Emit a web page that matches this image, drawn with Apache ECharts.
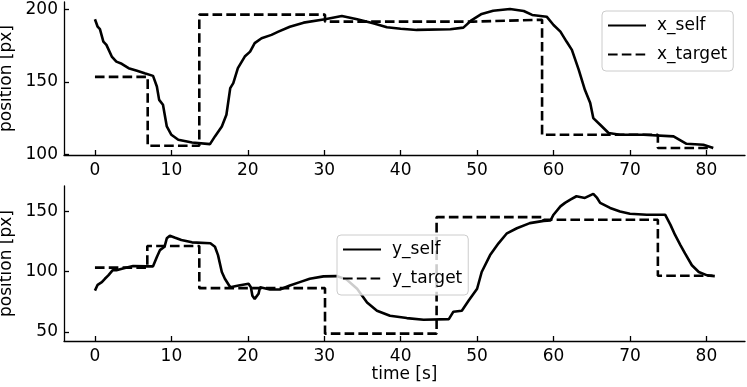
<!DOCTYPE html>
<html>
<head>
<meta charset="utf-8">
<script src="https://cdn.jsdelivr.net/npm/echarts@6/dist/echarts.min.js"></script>
<style>
    html, body { margin: 0; padding: 0; background: #fff; }
    #chart { width: 747px; height: 387px; }
</style>
</head>
<body>
<div id="chart"></div>
<script>
// time ticks shared by both panels
const timeTicks = [0, 10, 20, 30, 40, 50, 60, 70, 80]
const xTicks = [100, 150, 200]
const yTicks = [50, 100, 150]

// [time s, position px]
const xSelf = [[0,193.1],[0.35,188],[0.65,186.3],[1.1,177.8],[1.5,175.5],[2.2,167.5],[2.8,164],[3.5,162.5],
    [4.4,159.5],[5.5,157.7],[6.5,156],[7.6,154.2],[8.1,146.9],[8.4,137.7],[8.9,134.3],[9.4,119.4],[10.0,113.7],
    [10.9,110.3],[12.7,108.4],[15.05,107.3],[15.7,112.6],[16.6,119.4],[17.2,127.5],[17.7,145.8],[18.1,149.2],
    [18.7,159.5],[19.6,167.5],[20.3,170.9],[20.9,176.7],[21.8,180.1],[23.1,182.4],[24.0,184.6],[25.5,188],
    [27.3,190.8],[30.1,193.1],[32.3,195.4],[34.3,193.1],[36.4,190.4],[38.2,187.6],[40,186.6],[42.1,185.8],
    [46.5,186.3],[48.2,187.4],[49.3,192.6],[50.6,196.8],[52.1,199],[54.3,200.2],[56.1,198.8],[57.2,196.1],
    [59.1,194.9],[60.0,189.2],[60.9,184.6],[61.7,177.8],[62.4,172.1],[63.3,158.3],[64.1,144.6],[64.8,135.5],
    [65.2,125.2],[66.1,120.6],[67.2,114.9],[68.7,113.7],[71.8,113.7],[75.7,112.6],[77.4,107.5],[79.6,106.8],
    [80.9,104.6]]
// step targets: value holds until next time
const xTarget = [[0,153.5],[6.9,106.2],[13.65,196.3],[30.1,191.5],[49.5,192.8],[58.5,113.7],[73.65,104.6],[80.8,104.6]]

const ySelf = [[0,84.3],[0.35,89.1],[0.9,91.3],[1.3,94.1],[1.75,96.9],[2.3,101.1],[2.8,101.1],[3.9,103],
    [5.0,104.7],[6.8,104.4],[7.6,104.4],[8.1,112.2],[8.5,117.8],[9.1,120.6],[9.4,127.6],[9.8,129.8],[10.5,128.1],
    [11.3,126.2],[12.7,124.3],[15.1,123.5],[15.7,120.6],[16.1,113.7],[16.6,99.7],[17.0,94.1],[17.7,87.1],
    [18.8,88.5],[20.1,89.9],[20.4,87.1],[20.6,80],[20.9,77.4],[21.4,81.6],[21.6,87.1],[22.9,85.2],[24.2,85.2],
    [25.5,88.5],[26.8,91.3],[28.1,94.1],[29.9,96.1],[31.6,96.3],[32.9,93.6],[34.3,85.8],[35.6,74.5],[36.9,67.6],
    [38.6,63.4],[40.8,61.5],[43.0,60.1],[46.3,60.6],[46.9,66.8],[48.0,67.6],[48.9,76],[50.0,85.8],[50.6,99.7],
    [51.7,113.7],[52.8,123.5],[53.9,131.8],[55.2,136],[56.9,140.2],[58.7,142.1],[59.6,142.4],[60.0,147.2],
    [60.9,154.1],[61.5,157],[62.2,159.7],[63.0,162.5],[64.1,161.1],[65.2,164.5],[65.7,161.1],[66.1,157],
    [67.4,152.8],[68.7,149.9],[70.0,148],[72.2,147.2],[74.6,147.2],[75.3,138.8],[75.9,130.4],[76.6,122],
    [77.2,115.1],[78.1,105.3],[79.0,99.7],[80.1,96.9],[81.1,96.3]]
const yTarget = [[0,103.3],[6.85,121.2],[13.65,86.3],[30.1,48.6],[44.7,145.2],[58.7,143],[73.65,96.6],[80.8,96.6]]

const FONT = 'DejaVu Sans'
const FS = 17

function timeAxis(gridIndex, withName) {
    return {
        type: 'value',
        gridIndex: gridIndex,
        min: -4.05,
        max: 85.05,
        name: withName ? 'time [s]' : '',
        nameLocation: 'middle',
        nameGap: 18,
        nameTextStyle: { fontFamily: FONT, fontSize: FS, color: '#000', verticalAlign: 'top' },
        axisLine: { show: true, onZero: false, lineStyle: { color: '#000', width: 1.3 } },
        axisTick: { show: true, inside: true, length: 5, customValues: timeTicks, lineStyle: { color: '#000', width: 1.3 } },
        axisLabel: { customValues: timeTicks, margin: 7, fontFamily: FONT, fontSize: FS, color: '#000' },
        splitLine: { show: false }
    }
}

function posAxis(gridIndex, min, max, ticks) {
    return {
        type: 'value',
        gridIndex: gridIndex,
        min: min,
        max: max,
        name: 'position [px]',
        nameLocation: 'middle',
        nameGap: 41,
        nameTextStyle: { fontFamily: FONT, fontSize: FS, color: '#000' },
        axisLine: { show: true, onZero: false, lineStyle: { color: '#000', width: 1.3 } },
        axisTick: { show: true, inside: true, length: 5, customValues: ticks, lineStyle: { color: '#000', width: 1.3 } },
        axisLabel: { customValues: ticks, margin: 6, fontFamily: FONT, fontSize: FS, color: '#000' },
        splitLine: { show: false }
    }
}

function lineSeries(name, data, idx, dashed) {
    return {
        name: name,
        type: 'line',
        xAxisIndex: idx,
        yAxisIndex: idx,
        data: data,
        step: dashed ? 'end' : false,
        symbol: 'none',
        silent: true,
        lineStyle: { color: '#000', width: 2.6, type: dashed ? [9.6, 4.2] : 'solid' },
        itemStyle: { color: '#000' }
    }
}

function legendBox(left, top, names) {
    return {
        orient: 'vertical',
        left: left,
        top: top,
        data: names,
        itemWidth: 38,
        itemHeight: 14,
        itemGap: 12,
        padding: [6, 6, 8, 5],
        borderColor: '#cccccc',
        borderWidth: 1,
        borderRadius: 4,
        backgroundColor: 'rgba(255,255,255,0.8)',
        itemStyle: { opacity: 0 },
        textStyle: { fontFamily: FONT, fontSize: FS, color: '#000', padding: [0, 0, 0, 6] }
    }
}

let myChart = echarts.init(document.getElementById('chart'), null, { renderer: 'canvas' })
let option = {
    animation: false,
    backgroundColor: '#fff',
    grid: [
        { left: 64, right: 2, top: 2, height: 153, containLabel: false, outerBoundsMode: 'none' },
        { left: 64, right: 2, top: 186, height: 155, containLabel: false, outerBoundsMode: 'none' }
    ],
    legend: [
        legendBox(602, 11, ['x_self', 'x_target']),
        legendBox(337, 235, ['y_self', 'y_target'])
    ],
    xAxis: [timeAxis(0, false), timeAxis(1, true)],
    yAxis: [posAxis(0, 99.8, 205, xTicks), posAxis(1, 42.5, 171, yTicks)],
    series: [
        lineSeries('x_self', xSelf, 0, false),
        lineSeries('x_target', xTarget, 0, true),
        lineSeries('y_self', ySelf, 1, false),
        lineSeries('y_target', yTarget, 1, true)
    ]
}
myChart.setOption(option)
</script>
</body>
</html>
